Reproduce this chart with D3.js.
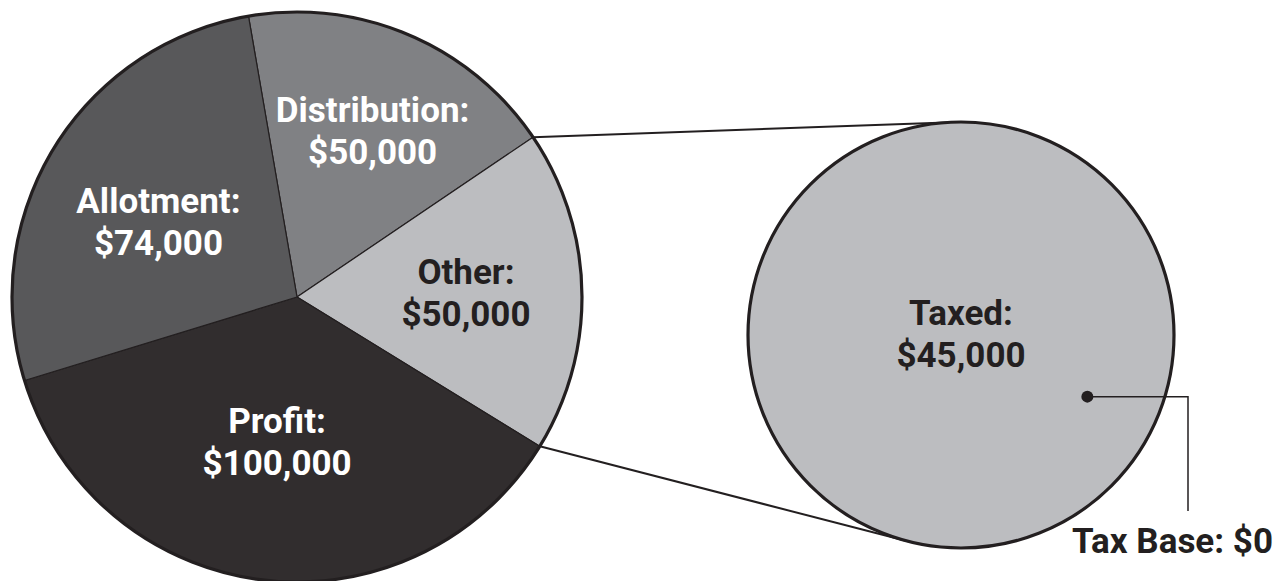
<!DOCTYPE html>
<html>
<head>
<meta charset="utf-8">
<script src="https://cdn.jsdelivr.net/npm/d3@7"></script>
<style>
  html, body { margin: 0; padding: 0; background: #ffffff; }
  svg { display: block; }
  text { font-family: Roboto, "Noto Sans", sans-serif; font-weight: bold; }
</style>
</head>
<body>
<svg id="chart" width="1285" height="581"></svg>
<script>
// ---- data ----
const categories = ["Distribution", "Other", "Profit", "Allotment"];
const values = [50000, 50000, 100000, 74000];
const sliceColors = ["#808184", "#bcbdc0", "#312d2e", "#58585a"];
const labelColors = ["#ffffff", "#231f20", "#ffffff", "#ffffff"];

const detailCategories = ["Taxed", "Tax Base"];
const detailValues = [45000, 0];

const fmt = v => "$" + d3.format(",")(v);

// ---- layout ----
const svg = d3.select("#chart");
const pieC = [297, 297], pieR = 285;
const detC = [961, 335], detR = 213;
const ink = "#231f20";
const FS = 35, LINE = 42;
// label nudges from the arc centroid (layout only)
const labelNudge = { Distribution: [11, -11], Other: [4, 3], Profit: [1, -16], Allotment: [2, 14] };

const startDeg = -9.8;
const pie = d3.pie().sort(null).value(d => d.value)
  .startAngle(startDeg * Math.PI / 180)
  .endAngle((startDeg + 360) * Math.PI / 180);

const data = categories.map((c, i) => ({ name: c, value: values[i], color: sliceColors[i], label: labelColors[i] }));
const arcs = pie(data);
const arc = d3.arc().innerRadius(0).outerRadius(pieR);
const labelArc = d3.arc().innerRadius(165).outerRadius(165);

const gPie = svg.append("g").attr("transform", `translate(${pieC[0]},${pieC[1]})`);
gPie.selectAll("path.slice").data(arcs).join("path")
  .attr("class", "slice")
  .attr("d", arc)
  .attr("fill", d => d.data.color)
  .attr("stroke", ink)
  .attr("stroke-width", 1.2)
  .attr("stroke-linejoin", "round");
gPie.append("circle").attr("r", pieR).attr("fill", "none").attr("stroke", ink).attr("stroke-width", 3.2);

const lab = gPie.selectAll("text.lab").data(arcs).join("text")
  .attr("class", "lab")
  .attr("text-anchor", "middle")
  .attr("fill", d => d.data.label)
  .attr("font-size", FS)
  .attr("transform", d => {
    const [x, y] = labelArc.centroid(d);
    const n = labelNudge[d.data.name];
    return `translate(${x + n[0]},${y + n[1]})`;
  });
lab.append("tspan").attr("x", 0).attr("y", -12).text(d => d.data.name + ":");
lab.append("tspan").attr("x", 0).attr("y", -12 + LINE).text(d => fmt(d.data.value));

// ---- detail circle ----
const detPie = d3.pie().sort(null).value(d => d.value);
const detData = detailCategories.map((c, i) => ({ name: c, value: detailValues[i] }));
const detArcs = detPie(detData);
const detArc = d3.arc().innerRadius(0).outerRadius(detR);

// connector lines: from the 'Other' slice edges to tangents of the detail circle
const other = arcs[1];
function edgePoint(a) { const p = d3.pointRadial(a, pieR); return [pieC[0] + p[0], pieC[1] + p[1]]; }
function tangent(P, upper) {
  const dx = P[0] - detC[0], dy = P[1] - detC[1];
  const d = Math.hypot(dx, dy);
  const th = Math.atan2(dy, dx);
  const a = Math.acos(detR / d);
  const t = upper ? th + a : th - a;
  return [detC[0] + detR * Math.cos(t), detC[1] + detR * Math.sin(t)];
}
const pTop = edgePoint(other.startAngle), pBot = edgePoint(other.endAngle);
const tTop = tangent(pTop, true), tBot = tangent(pBot, false);
svg.append("line").attr("x1", pTop[0]).attr("y1", pTop[1]).attr("x2", tTop[0]).attr("y2", tTop[1])
  .attr("stroke", ink).attr("stroke-width", 2);
svg.append("line").attr("x1", pBot[0]).attr("y1", pBot[1]).attr("x2", tBot[0]).attr("y2", tBot[1])
  .attr("stroke", ink).attr("stroke-width", 2);

const gDet = svg.append("g").attr("transform", `translate(${detC[0]},${detC[1]})`);
gDet.selectAll("path").data(detArcs).join("path")
  .attr("d", detArc)
  .attr("fill", "#bcbdc0")
  .attr("stroke", "none");
gDet.append("circle").attr("r", detR).attr("fill", "none").attr("stroke", ink).attr("stroke-width", 3.2);

const tLab = gDet.append("text").attr("text-anchor", "middle").attr("fill", ink).attr("font-size", FS);
tLab.append("tspan").attr("x", 0).attr("y", -10).text(detData[0].name + ":");
tLab.append("tspan").attr("x", 0).attr("y", -10 + LINE).text(fmt(detData[0].value));

// Tax Base marker and leader
const dotP = d3.pointRadial(116 * Math.PI / 180, detR * 0.66);
const dot = [detC[0] + dotP[0], detC[1] + dotP[1]];
const leadX = detC[0] + detR + 14, leadY2 = 511;
svg.append("path")
  .attr("d", d3.line()([dot, [leadX, dot[1]], [leadX, leadY2]]))
  .attr("fill", "none").attr("stroke", ink).attr("stroke-width", 1.5);
svg.append("circle").attr("cx", dot[0]).attr("cy", dot[1]).attr("r", 6).attr("fill", ink);
svg.append("text").attr("x", 1273).attr("y", 553).attr("text-anchor", "end")
  .attr("fill", ink).attr("font-size", FS)
  .text(detData[1].name + ": " + fmt(detData[1].value));
</script>
</body>
</html>
